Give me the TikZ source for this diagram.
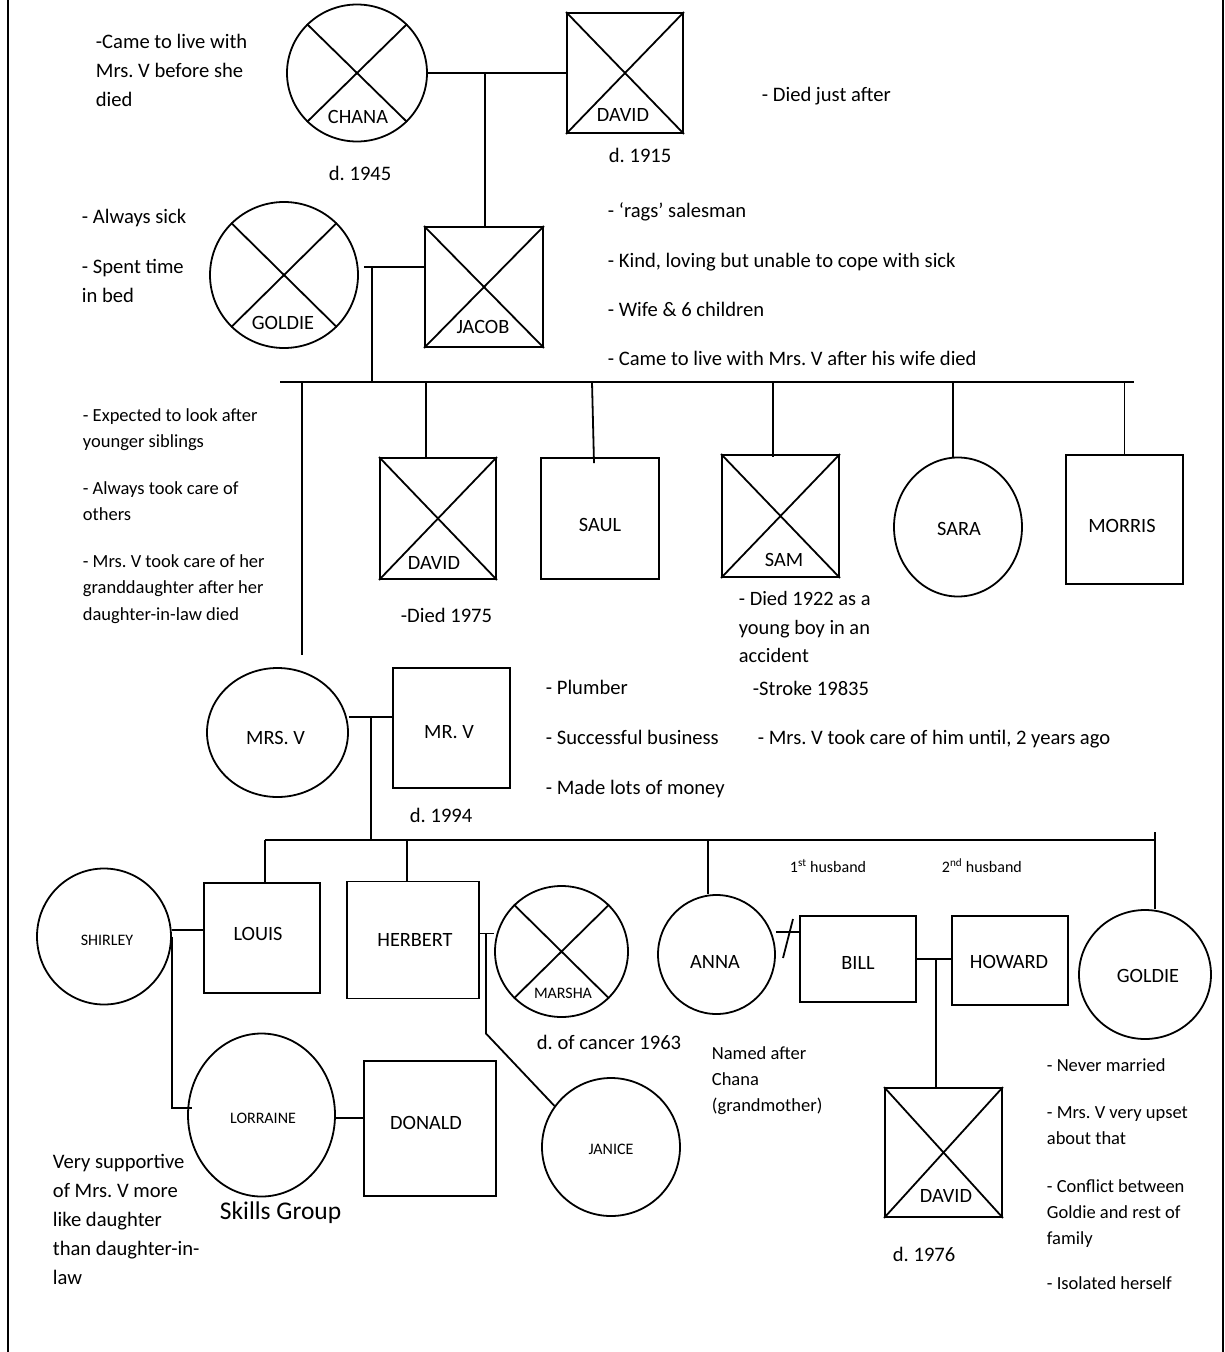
\documentclass[tikz,border=0pt]{standalone}
\usepackage{fontspec}
\setmainfont{Carlito}
\usetikzlibrary{shapes.geometric,calc}
\frenchspacing
\begin{document}
\begin{tikzpicture}[x=1pt,y=-1pt,line width=1.8pt,
  fem/.style={ellipse, draw, inner sep=0pt},
  mal/.style={rectangle, draw, inner sep=0pt},
  nm/.style={font=\fontsize{20.3}{24}\selectfont, inner sep=0pt, anchor=base},
  nms/.style={font=\fontsize{16}{19}\selectfont, inner sep=0pt, anchor=base},
  txt/.style={font=\fontsize{20.6}{29}\selectfont, inner sep=0pt, anchor=base west, align=left},
  txs/.style={font=\fontsize{18.5}{26.5}\selectfont, inner sep=0pt, anchor=base west, align=left},
  txm/.style={font=\fontsize{16}{19}\selectfont, inner sep=0pt, anchor=base west, align=left},
  frame/.style={line width=2.5pt}
]
\newcommand\xcross[1]{\draw (#1.north west) -- (#1.south east) (#1.north east) -- (#1.south west);}
\useasboundingbox (0,0) rectangle (1225,1352);
\fill[white] (0,0) rectangle (1225,1352);
\draw[frame] (8,0) -- (8,1352);
\draw[frame] (1223,0) -- (1223,1352);

% ---------- generation 1
\node[fem, minimum width=140pt, minimum height=137pt] (chana) at (357,73) {};
\node[mal, minimum width=116pt, minimum height=120pt] (davidA) at (625,73) {};
\node[fem, minimum width=148pt, minimum height=146pt] (goldieA) at (284,275) {};
\node[mal, minimum width=118pt, minimum height=120pt] (jacob) at (484,287) {};
\xcross{chana}\xcross{davidA}\xcross{goldieA}\xcross{jacob}
\node[nm] (lchana) at (358,123.5) {CHANA};
\node[nm] (ldavidA) at (623,121.5) {DAVID};
\node[nm] (lgoldieA) at (283,329.5) {GOLDIE};
\node[nm] (ljacob) at (483,333.5) {JACOB};

\draw (chana) -- (davidA);
\coordinate (m1) at (485,73);
\draw (m1) -- (m1 |- jacob.north);
\coordinate (m2) at (372,267);
\draw (goldieA.east |- m2) ++(5,0) -- (jacob.west |- m2);

% ---------- generation 2 (siblings)
\coordinate (sibL) at (280,382);
\coordinate (sibR) at (1134,382);
\draw (sibL) -- (sibR);
\draw (m2) -- (m2 |- sibL);

\node[mal, minimum width=116pt, minimum height=121pt] (davidB) at (438,518.5) {};
\node[mal, minimum width=118pt, minimum height=121pt] (saul) at (600,518.5) {};
\node[mal, minimum width=117pt, minimum height=122pt] (sam) at (780.5,516) {};
\node[fem, minimum width=128pt, minimum height=139pt] (sara) at (958,527) {};
\node[mal, minimum width=117pt, minimum height=129pt] (morris) at (1124.5,519.5) {};
\xcross{davidB}\xcross{sam}
\node[nm] (ldavidB) at (434,569.5) {DAVID};
\node[nm] (lsaul) at (600,531.5) {SAUL};
\node[nm] (lsam) at (784,566.5) {SAM};
\node[nm] (lsara) at (959,535.5) {SARA};
\node[nm] (lmorris) at (1122,532.5) {MORRIS};

\node[fem, minimum width=141pt, minimum height=129pt] (mrsv) at (277.5,732.5) {};
\node[mal, minimum width=117pt, minimum height=120pt] (mrv) at (451.5,728) {};
\node[nm] (lmrsv) at (275.5,744.5) {MRS. V};
\node[nm] (lmrv) at (449,738.5) {MR. V};

\coordinate (dMV) at (302,382);
\draw (dMV) -- ($(dMV |- mrsv.north)+(0,-12)$);
\coordinate (dDB) at ($(davidB.north)+(-12,0)$);
\draw (dDB |- sibL) -- (dDB);
\coordinate (dS) at ($(saul.north)+(-6,6)$);
\draw ($(dS |- sibL)+(-2,0)$) -- (dS);
\coordinate (dSm) at ($(sam.north)+(-7.5,3)$);
\draw (dSm |- sibL) -- (dSm);
\coordinate (dSa) at ($(sara.north)+(-5,0)$);
\draw (dSa |- sibL) -- (dSa);
\draw (morris.north |- sibL) -- (morris.north);

\coordinate (m3) at (371,717);
\draw (mrsv.east |- m3) -- (mrv.west |- m3);

% ---------- generation 3
\coordinate (chL) at (265,840);
\coordinate (chR) at (1155,840);
\draw (m3) -- (m3 |- chL);
\draw (chL) -- (chR);

\node[fem, minimum width=134pt, minimum height=136pt] (shirley) at (104,936.5) {};
\node[mal, minimum width=116pt, minimum height=110pt] (louis) at (262,938) {};
\node[mal, minimum width=132pt, minimum height=117pt] (herbert) at (413,940) {};
\node[fem, minimum width=133pt, minimum height=131pt] (marsha) at (561.5,951.5) {};
\node[fem, minimum width=117pt, minimum height=119pt] (anna) at (716.5,954.5) {};
\node[mal, minimum width=116pt, minimum height=86pt] (bill) at (858,959) {};
\node[mal, minimum width=116pt, minimum height=89pt] (howard) at (1010,960.5) {};
\node[fem, minimum width=132pt, minimum height=129pt] (goldieB) at (1145,974.5) {};
\xcross{marsha}
\node[nms] (lshirley) at (107,945) {SHIRLEY};
\node[nm] (llouis) at (258,940.5) {LOUIS};
\node[nm] (lherbert) at (415,946.5) {HERBERT};
\node[nms] (lmarsha) at (563,998) {MARSHA};
\node[nm] (lanna) at (715,968.5) {ANNA};
\node[nm] (lbill) at (858,969.5) {BILL};
\node[nm] (lhoward) at (1009,968.5) {HOWARD};
\node[nm] (lgoldieB) at (1148,982.5) {GOLDIE};

\draw ($(chR)+(0,-8)$) -- (chR |- goldieB.north);
\draw (chL) -- (chL |- louis.north);
\coordinate (dH) at ($(herbert.north)+(-6,0)$);
\draw (dH |- chL) -- (dH);
\coordinate (dA) at ($(anna.north)+(-8.5,0)$);
\draw (dA |- chL) -- (dA);

% ---------- generation 4
\node[fem, minimum width=147pt, minimum height=163pt] (lorraine) at (261.5,1115) {};
\node[mal, minimum width=132pt, minimum height=135pt] (donald) at (430,1128.5) {};
\node[fem, minimum width=138pt, minimum height=138pt] (janice) at (611,1147) {};
\node[mal, minimum width=117pt, minimum height=129pt] (davidC) at (943.5,1152.5) {};
\xcross{davidC}
\node[nms] (llorraine) at (263,1123) {LORRAINE};
\node[nm] (ldonald) at (426,1129.5) {DONALD};
\node[nms] (ljanice) at (611,1154) {JANICE};
\node[nm] (ldavidC) at (946,1202.5) {DAVID};

\coordinate (sL) at ($(shirley.east)+(0,-6.5)$);
\draw (sL) -- (sL -| louis.west);
\coordinate (lW) at ($(lorraine.west)+(5,-7)$);
\draw (shirley.east) -- (shirley.east |- lW) -- (lW);
\coordinate (lE) at ($(lorraine.east)+(0,3)$);
\draw (lE) -- (lE -| donald.west);
\coordinate (hE) at ($(herbert.east)+(0,-6.5)$);
\draw (hE) -- (hE -| marsha.west);
\coordinate (m4) at (486,933.5);
\coordinate (m4b) at (486,1033.5);
\draw (m4) -- (m4b) -- (janice.144);
\coordinate (aE) at ($(anna.east)+(0,-22.5)$);
\draw (aE) -- (aE -| bill.west);
\coordinate (div) at (788,938.5);
\draw ($(div)+(5,-19.5)$) -- ($(div)+(-5,19.5)$);
\draw (bill.east) -- (bill.east -| howard.west);
\coordinate (m5) at (936,959);
\draw (m5) -- (m5 |- davidC.north);

% ---------- texts (multi-line nodes are placed by the baseline of their last line)
\node[txt] (t1) at (95,106.5) {-Came to live with\\Mrs. V before she\\died};
\node[txt] (t2) at (328,180.5) {d. 1945};
\node[txt] (t3) at (761,101.5) {- Died just after};
\node[txt] (t4) at (608,162.5) {d. 1915};
\node[txt] (t5) at (81,223.5) {- Always sick};
\node[txt] (t6) at (81,302.5) {- Spent time\\in bed};
\node[txt] (t7) at (607,217.5) {- ‘rags’ salesman};
\node[txt] (t8) at (607,267.5) {- Kind, loving but unable to cope with sick};
\node[txt] (t9) at (607,316.5) {- Wife \& 6 children};
\node[txt] (t10) at (607,365.5) {- Came to live with Mrs. V after his wife died};
\node[txs] (t11) at (82,447.5) {- Expected to look after\\younger siblings};
\node[txs] (t12) at (82,520.5) {- Always took care of\\others};
\node[txs] (t13) at (82,620) {- Mrs. V took care of her\\granddaughter after her\\daughter-in-law died};
\node[txt] (t14) at (400,622.5) {-Died 1975};
\node[txt, font=\fontsize{20.4}{28.5}\selectfont] (t15) at (738,662.5) {- Died 1922 as a\\young boy in an\\accident};
\node[txt] (t16) at (545,694.5) {- Plumber};
\node[txt] (t17) at (545,744.5) {- Successful business};
\node[txt] (t18) at (545,794.5) {- Made lots of money};
\node[txt] (t19) at (752,695.5) {-Stroke 19835};
\node[txt] (t20) at (757,744.5) {- Mrs. V took care of him until, 2 years ago};
\node[txt] (t21) at (409,822.5) {d. 1994};
\node[txm] (t22) at (789,872.5) {1\textsuperscript{st} husband};
\node[txm] (t23) at (941,872.5) {2\textsuperscript{nd} husband};
\node[txt] (t24) at (536,1049.5) {d. of cancer 1963};
\node[txs, font=\fontsize{18.5}{26}\selectfont] (t25) at (711,1111) {Named after\\Chana\\(grandmother)};
\node[txt] (t26) at (52,1284.5) {Very supportive\\of Mrs. V more\\like daughter\\than daughter-in-\\law};
\node[txt, font=\fontsize{25.5}{30}\selectfont] (t27) at (219,1219) {Skills Group};
\node[txt] (t28) at (892,1261.5) {d. 1976};
\node[txs, font=\fontsize{18.5}{26}\selectfont] (t29) at (1046,1071) {- Never married};
\node[txs, font=\fontsize{18.5}{26}\selectfont] (t30) at (1046,1144) {- Mrs. V very upset\\about that};
\node[txs, font=\fontsize{18.5}{26}\selectfont] (t31) at (1046,1244) {- Conflict between\\Goldie and rest of\\family};
\node[txs, font=\fontsize{18.5}{26}\selectfont] (t32) at (1046,1289) {- Isolated herself};
\end{tikzpicture}
\end{document}
